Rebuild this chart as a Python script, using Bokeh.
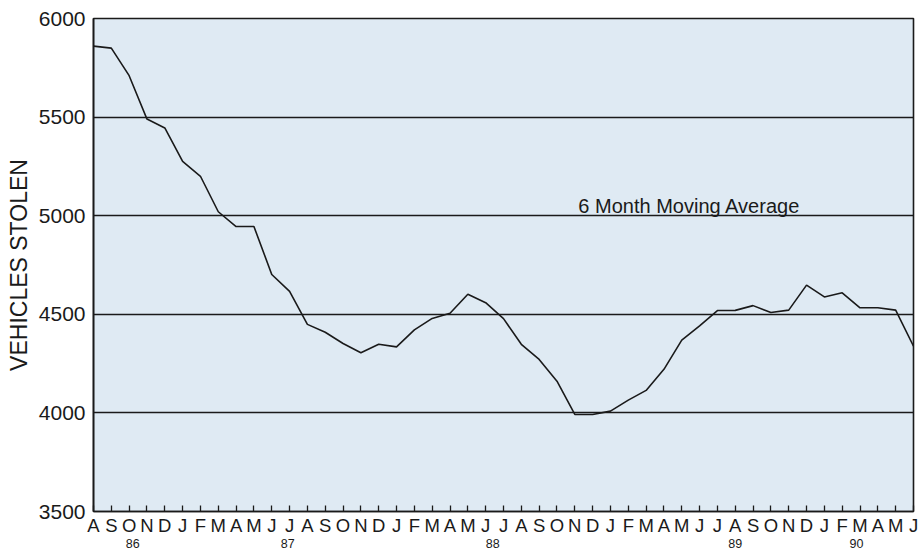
from bokeh.plotting import figure
from bokeh.models import Range1d, FixedTicker, LinearAxis, Label, ColumnDataSource
from bokeh.embed import file_html
from bokeh.resources import INLINE

# ---- data (6 month moving average of vehicles stolen, Aug 1986 - Jun 1990) ----
month_letters = list("ASONDJFMAMJJ" * 3 + "ASONDJFMAMJ")
month_index = list(range(len(month_letters)))
vehicles_stolen = [5860, 5850, 5710, 5490, 5445, 5275, 5200, 5020, 4945, 4945,
                   4702, 4616, 4449, 4409, 4352, 4305, 4348, 4335, 4421, 4479,
                   4505, 4602, 4559, 4478, 4348, 4271, 4161, 3992, 3992, 4009,
                   4065, 4114, 4221, 4369, 4441, 4519, 4520, 4544, 4509, 4521,
                   4648, 4588, 4609, 4533, 4533, 4521, 4338]
year_labels = ["86", "87", "88", "89", "90"]
year_pos = [2.2, 10.9, 22.4, 36.0, 42.8]
y_ticks = [3500, 4000, 4500, 5000, 5500, 6000]
series_label = "6 Month Moving Average"

FONT = "Liberation Sans"
INK = "#1a1a1a"

p = figure(width=923, height=550, output_backend="svg", toolbar_location=None,
           x_range=Range1d(0, len(month_letters) - 1), y_range=Range1d(3500, 6000),
           x_axis_location=None, y_axis_location=None,
           min_border_left=93, min_border_right=10, min_border_top=18,
           min_border_bottom=38)

p.background_fill_color = "#dfeaf3"
p.border_fill_color = "white"
p.outline_line_color = INK
p.outline_line_width = 1.6

# y axis
yaxis = LinearAxis(ticker=FixedTicker(ticks=y_ticks))
yaxis.axis_label = "VEHICLES STOLEN"
yaxis.axis_label_text_font = FONT
yaxis.axis_label_text_font_size = "23px"
yaxis.axis_label_text_font_style = "normal"
yaxis.axis_label_text_color = INK
yaxis.axis_label_standoff = 4
yaxis.major_label_text_font = FONT
yaxis.major_label_text_font_size = "21px"
yaxis.major_label_text_color = INK
yaxis.major_label_standoff = 8
yaxis.major_tick_out = 0
yaxis.major_tick_in = 0
yaxis.minor_tick_out = 0
yaxis.minor_tick_in = 0
yaxis.axis_line_color = INK
yaxis.axis_line_width = 1.6
p.add_layout(yaxis, "left")

# x axis with month letters
xaxis = LinearAxis(ticker=FixedTicker(ticks=month_index))
xaxis.major_label_overrides = {i: m for i, m in zip(month_index, month_letters)}
xaxis.major_label_text_font = FONT
xaxis.major_label_text_font_size = "18.5px"
xaxis.major_label_text_color = INK
xaxis.major_label_standoff = 3
xaxis.major_tick_out = 0
xaxis.major_tick_in = 6
xaxis.major_tick_line_color = INK
xaxis.major_tick_line_width = 1.3
xaxis.minor_tick_out = 0
xaxis.minor_tick_in = 0
xaxis.axis_line_color = INK
xaxis.axis_line_width = 1.6
p.add_layout(xaxis, "below")

# second x axis carrying the year labels
year_axis = LinearAxis(ticker=FixedTicker(ticks=year_pos))
year_axis.major_label_overrides = {pos: y for pos, y in zip(year_pos, year_labels)}
year_axis.major_label_text_font = FONT
year_axis.major_label_text_font_size = "12.5px"
year_axis.major_label_text_color = INK
year_axis.major_label_standoff = 0
year_axis.major_tick_out = 0
year_axis.major_tick_in = 0
year_axis.minor_tick_out = 0
year_axis.minor_tick_in = 0
year_axis.axis_line_color = None
p.add_layout(year_axis, "below")

# grid lines
p.ygrid.ticker = FixedTicker(ticks=y_ticks)
p.ygrid.grid_line_color = INK
p.ygrid.grid_line_width = 1.3
p.xgrid.grid_line_color = None

# the series
src = ColumnDataSource(dict(x=month_index, y=vehicles_stolen))
p.line("x", "y", source=src, line_color=INK, line_width=1.6)

# series label
p.add_layout(Label(x=27.2, y=5050, text=series_label, text_font=FONT,
                   text_font_size="20px", text_color=INK,
                   text_baseline="alphabetic"))

open("out.html", "w").write(file_html(p, INLINE))
